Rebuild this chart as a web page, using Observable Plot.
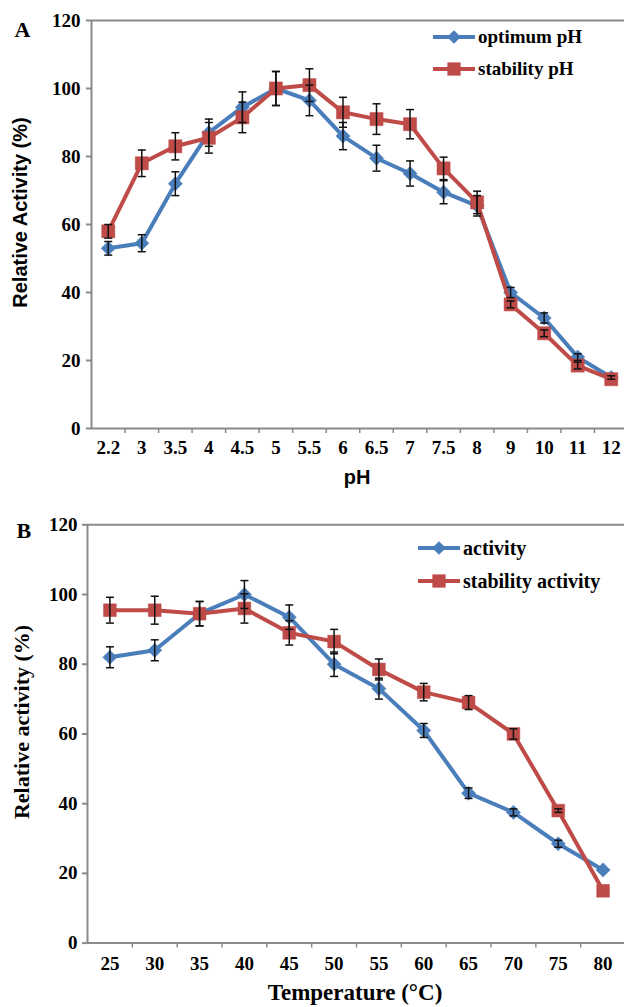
<!DOCTYPE html>
<html>
<head>
<meta charset="utf-8">
<script src="https://cdn.jsdelivr.net/npm/d3@7"></script>
<script src="https://cdn.jsdelivr.net/npm/@observablehq/plot@0.6"></script>
<style>
  html, body { margin: 0; padding: 0; background: #fff; overflow: hidden; }
  #wrap { position: relative; width: 624px; height: 1007px; }
  #wrap svg { display: block; }
  #legend { position: absolute; left: 0; top: 0; pointer-events: none; }
</style>
</head>
<body>
<div id="wrap"></div>
<script>
// ---------- Data: panel A (pH) ----------
const phLabels = ["2.2","3","3.5","4","4.5","5","5.5","6","6.5","7","7.5","8","9","10","11","12"];
const optimumPH    = [53, 54.5, 72, 87, 94.5, 100, 96.5, 86, 79.5, 75, 69.5, 65.5, 40, 32.5, 21, 15];
const optimumPHErr = [2, 2.5, 3.5, 4, 4.5, 5, 4.5, 4, 3.8, 3.7, 3.4, 3, 1.5, 1.5, 1, 0.5];
const stabilityPH    = [58, 78, 83, 85.5, 91.5, 100, 101, 93, 91, 89.5, 76.5, 66.5, 36.5, 28, 18.5, 14.5];
const stabilityPHErr = [2, 3.9, 4, 4.5, 4.5, 5, 4.8, 4.4, 4.5, 4.3, 3.3, 3.3, 1, 1, 1, 0];
const seriesNamesA = ["optimum pH", "stability pH"];

// ---------- Data: panel B (temperature) ----------
const tempLabels = ["25","30","35","40","45","50","55","60","65","70","75","80"];
const activity    = [82, 84, 94.5, 100, 93.5, 80, 73, 61, 43, 37.5, 28.5, 21];
const activityErr = [3, 3, 3.5, 4, 3.5, 3.5, 3, 2, 1.5, 1, 1, 0];
const stabilityAct    = [95.5, 95.5, 94.5, 96, 89, 86.5, 78.5, 72, 69, 60, 38, 15];
const stabilityActErr = [3.7, 4, 3.5, 4.2, 3.5, 3.5, 3, 2.5, 2, 1.5, 0.5, 0];
const seriesNamesB = ["activity", "stability activity"];

const yTicks = [0, 20, 40, 60, 80, 100, 120];

// ---------- Style ----------
const BLUE = "#4A7EBB", RED = "#BE4B48", AXIS = "#8a8a8a", ERR = "#111";
const SERIF = "'Liberation Serif','Times New Roman',serif";
const SANS = "'Liberation Sans',Arial,sans-serif";

const capSymbol = { draw(ctx) { ctx.moveTo(-4, 0); ctx.lineTo(4, 0); } };

function panel(cfg) {
  const n = cfg.labels.length;
  const rows = cfg.series.flatMap(s => s.values.map((v, i) => ({
    series: s.name, x: i + 0.5, v, e: s.errs[i], color: s.color
  })));
  const marks = [
    Plot.ruleY([0], {stroke: AXIS, strokeWidth: 2}),
    Plot.ruleY([120], {stroke: AXIS, strokeWidth: 2}),
    Plot.ruleX([0], {stroke: AXIS, strokeWidth: 2}),
    Plot.axisY(yTicks, {
      tickSize: 5, tickPadding: cfg.yPad, stroke: AXIS, strokeWidth: 2, color: "black",
      fontFamily: SERIF, fontWeight: "bold", fontSize: cfg.tickFont, label: null
    }),
    Plot.axisX(d3.range(1, n), {
      tickSize: 5, stroke: AXIS, strokeWidth: 1.5, tickFormat: () => "", label: null
    }),
    Plot.axisX(cfg.labels.map((_, i) => i + 0.5), {
      tickSize: 0, tickPadding: cfg.xPad, color: "black",
      tickFormat: (d) => cfg.labels[Math.floor(d)],
      fontFamily: SERIF, fontWeight: "bold", fontSize: cfg.tickFont, label: null
    })
  ];
  for (const s of cfg.series) {
    const data = rows.filter(r => r.series === s.name);
    marks.push(Plot.line(data, {x: "x", y: "v", stroke: s.color, strokeWidth: 4, curve: "linear"}));
    marks.push(Plot.dot(data, {x: "x", y: "v", symbol: s.symbol, r: s.r, fill: s.color, stroke: s.color, strokeWidth: 0.5}));
  }
  const withErr = rows.filter(r => r.e > 0);
  marks.push(Plot.ruleX(withErr, {x: "x", y1: d => d.v - d.e, y2: d => d.v + d.e, stroke: ERR, strokeWidth: 1.5}));
  marks.push(Plot.dot(withErr, {x: "x", y: d => d.v + d.e, symbol: capSymbol, r: 4, fill: "none", stroke: ERR, strokeWidth: 1.5}));
  marks.push(Plot.dot(withErr, {x: "x", y: d => d.v - d.e, symbol: capSymbol, r: 4, fill: "none", stroke: ERR, strokeWidth: 1.5}));
  // axis titles and panel letter
  marks.push(Plot.text([cfg.yLabel], {
    frameAnchor: "left", rotate: -90, dx: cfg.yLabelDx, dy: cfg.yLabelDy, text: d => d,
    fontFamily: cfg.yLabelFamily, fontWeight: "bold", fontSize: cfg.yLabelSize, fill: "black", textAnchor: "middle"
  }));
  marks.push(Plot.text([cfg.xLabel], {
    frameAnchor: "bottom", dy: cfg.xLabelDy, dx: cfg.xLabelDx, text: d => d,
    fontFamily: cfg.xLabelFamily, fontWeight: "bold", fontSize: cfg.xLabelSize, fill: "black"
  }));
  marks.push(Plot.text([cfg.letter], {
    frameAnchor: "top-left", dx: cfg.letterDx, dy: cfg.letterDy, text: d => d, textAnchor: "start", lineAnchor: "bottom",
    fontFamily: SERIF, fontWeight: "bold", fontSize: 22, fill: "black"
  }));
  return Plot.plot({
    width: 624,
    height: cfg.height,
    marginTop: cfg.marginTop,
    marginBottom: cfg.marginBottom,
    marginLeft: cfg.left,
    marginRight: 0,
    x: {type: "linear", domain: [0, n], range: [cfg.left, cfg.right]},
    y: {domain: [0, 120]},
    style: {fontFamily: SERIF, background: "white", overflow: "visible"},
    marks
  });
}

const wrap = document.getElementById("wrap");

wrap.appendChild(panel({
  labels: phLabels,
  series: [
    {name: seriesNamesA[0], values: optimumPH, errs: optimumPHErr, color: BLUE, symbol: "diamond2", r: 6.4},
    {name: seriesNamesA[1], values: stabilityPH, errs: stabilityPHErr, color: RED, symbol: "square", r: 7.4}
  ],
  height: 495, marginTop: 20, marginBottom: 67, left: 91, right: 627.5,
  tickFont: 19, yPad: 6, xPad: 12,
  yLabel: "Relative Activity (%)", yLabelFamily: SANS, yLabelSize: 20, yLabelDx: -71, yLabelDy: -12,
  xLabel: "pH", xLabelFamily: SANS, xLabelSize: 20, xLabelDy: 55, xLabelDx: -1,
  letter: "A", letterDx: -77, letterDy: 16
}));

wrap.appendChild(panel({
  labels: tempLabels,
  series: [
    {name: seriesNamesB[0], values: activity, errs: activityErr, color: BLUE, symbol: "diamond2", r: 6.4},
    {name: seriesNamesB[1], values: stabilityAct, errs: stabilityActErr, color: RED, symbol: "square", r: 7.2}
  ],
  height: 512, marginTop: 29.3, marginBottom: 64.4, left: 87, right: 625,
  tickFont: 19, yPad: 5, xPad: 13,
  yLabel: "Relative activity (%)", yLabelFamily: SERIF, yLabelSize: 22, yLabelDx: -66, yLabelDy: -12,
  xLabel: "Temperature (°C)", xLabelFamily: SERIF, xLabelSize: 23, xLabelDy: 57, xLabelDx: -1,
  letter: "B", letterDx: -71, letterDy: 13
}));

// ---------- Legends (overlay) ----------
const legendItems = [
  {label: seriesNamesA[0], color: BLUE, sym: d3.symbolDiamond2, size: 120, x: 433, y: 37, font: 19},
  {label: seriesNamesA[1], color: RED,  sym: d3.symbolSquare,   size: 175, x: 433, y: 69, font: 19},
  {label: seriesNamesB[0], color: BLUE, sym: d3.symbolDiamond2, size: 120, x: 418, y: 548, font: 20},
  {label: seriesNamesB[1], color: RED,  sym: d3.symbolSquare,   size: 175, x: 418, y: 581, font: 20}
];
const lsvg = d3.select(wrap).append("svg")
  .attr("id", "legend").attr("width", 624).attr("height", 1007);
const g = lsvg.selectAll("g").data(legendItems).join("g")
  .attr("transform", d => `translate(${d.x},${d.y})`);
g.append("line").attr("x1", 0).attr("x2", 42).attr("y1", 0).attr("y2", 0)
  .attr("stroke", d => d.color).attr("stroke-width", 4);
g.append("path").attr("transform", "translate(21,0)")
  .attr("d", d => d3.symbol(d.sym, d.size)()).attr("fill", d => d.color);
g.append("text").attr("x", 45).attr("y", 0).attr("dy", "0.34em")
  .attr("font-family", SERIF).attr("font-weight", "bold")
  .attr("font-size", d => d.font).attr("fill", "black")
  .text(d => d.label);
</script>
</body>
</html>
